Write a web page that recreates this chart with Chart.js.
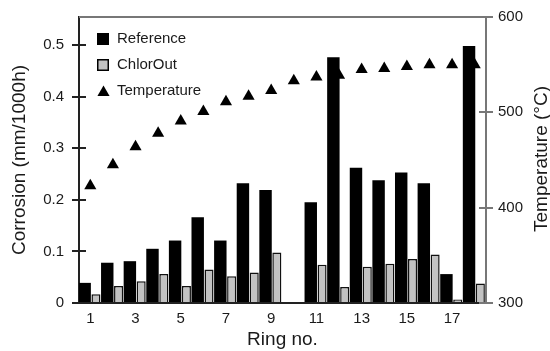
<!DOCTYPE html>
<html>
<head>
<meta charset="utf-8">
<script src="https://cdn.jsdelivr.net/npm/chart.js@4"></script>
<style>
  body { margin: 0; background: #fff; }
  canvas { display: block; }
</style>
</head>
<body>
<canvas id="chartCanvas" width="550" height="351"></canvas>
<script>
// ------------------------------------------------------------------
// Corrosion per ring (bars, left axis) + temperature (triangles, right axis)
// ------------------------------------------------------------------

// DATA
var rings = ['1', '2', '3', '4', '5', '6', '7', '8', '9', '10', '11', '12', '13', '14', '15', '16', '17', '18']
var referenceValues = [0.039, 0.078, 0.081, 0.105, 0.121, 0.166, 0.121, 0.232, 0.219, null, 0.195, 0.476, 0.262, 0.238, 0.253, 0.232, 0.056, 0.498]
var chlorOutValues  = [0.017, 0.033, 0.042, 0.056, 0.033, 0.065, 0.052, 0.059, 0.098, null, 0.074, 0.031, 0.070, 0.076, 0.085, 0.094, 0.007, 0.038]
var temperatureValues = [423, 445, 464, 478, 491, 501, 511, 517, 523, 533, 537, 539, 545, 546, 548, 550, 550, 550]

// Axis settings
var corrosionTicks = [0, 0.1, 0.2, 0.3, 0.4, 0.5]
var tempTicks = [300, 400, 500, 600]
var corrosionMax = 0.554
var leftTitle = 'Corrosion (mm/1000h)'
var rightTitle = 'Temperature (°C)'
var bottomTitle = 'Ring no.'
var seriesNames = ['Reference', 'ChlorOut', 'Temperature']

var fontFamily = "'Liberation Sans', Arial, Helvetica, sans-serif"
var textColor = '#1a1a1a'
var greyFill = '#c2c2c2'
var darkLine = '#222'
var lightLine = '#777'

Chart.defaults.font.family = fontFamily
Chart.defaults.color = textColor

// Small plugin: frame, inner tick marks, rotated right title and the legend box
var decorations = {
    id: 'decorations',
    afterDraw(chart) {
        var ctx = chart.ctx
        var area = chart.chartArea
        var yLeft = chart.scales.y
        var yRight = chart.scales.y1
        var top = Math.round(area.top)
        var bottom = Math.round(area.bottom)
        var left = Math.round(area.left)
        var right = Math.round(area.right)
        ctx.save()
        ctx.lineWidth = 2

        // top frame line (grey like the right axis)
        ctx.strokeStyle = lightLine
        ctx.beginPath()
        ctx.moveTo(left, top)
        ctx.lineTo(right, top)
        ctx.stroke()

        // bottom axis line over the bar feet
        ctx.strokeStyle = darkLine
        ctx.beginPath()
        ctx.moveTo(left - 1, bottom)
        ctx.lineTo(right, bottom)
        ctx.stroke()

        // ticks that cross into the plot
        yLeft.ticks.forEach(t => {
            var py = Math.round(yLeft.getPixelForValue(t.value))
            ctx.beginPath()
            ctx.moveTo(left, py)
            ctx.lineTo(left + 7, py)
            ctx.stroke()
        })
        ctx.strokeStyle = lightLine
        yRight.ticks.forEach(t => {
            var py = Math.round(yRight.getPixelForValue(t.value))
            ctx.beginPath()
            ctx.moveTo(right - 7, py)
            ctx.lineTo(right, py)
            ctx.stroke()
        })

        // right title reads bottom-to-top like the left one
        ctx.fillStyle = textColor
        ctx.font = '19px ' + fontFamily
        ctx.textAlign = 'center'
        ctx.textBaseline = 'middle'
        ctx.translate(541.5, (area.top + area.bottom) / 2 - 1)
        ctx.rotate(-Math.PI / 2)
        ctx.fillText(rightTitle, 0, 0)
        ctx.setTransform(1, 0, 0, 1, 0, 0)

        // legend in the top-left corner of the plot
        var lx = area.left + 18
        var ly = area.top + 22
        var rowGap = 26
        ctx.font = '15px ' + fontFamily
        ctx.textAlign = 'left'
        ctx.textBaseline = 'middle'

        ctx.fillStyle = '#000'
        ctx.fillRect(lx, ly - 6, 12, 12)
        ctx.fillStyle = textColor
        ctx.fillText(seriesNames[0], lx + 20, ly)

        ctx.fillStyle = '#000'
        ctx.fillRect(lx, ly + rowGap - 6, 12, 12)
        ctx.fillStyle = greyFill
        ctx.fillRect(lx + 1.5, ly + rowGap - 4.5, 9, 9)
        ctx.fillStyle = textColor
        ctx.fillText(seriesNames[1], lx + 20, ly + rowGap)

        var tx = lx + 6.5
        var ty = ly + 2 * rowGap + 1.5
        var r = 7
        ctx.fillStyle = '#000'
        ctx.beginPath()
        ctx.moveTo(tx, ty - r)
        ctx.lineTo(tx + r * Math.sin(Math.PI * 2 / 3), ty + r / 2)
        ctx.lineTo(tx - r * Math.sin(Math.PI * 2 / 3), ty + r / 2)
        ctx.closePath()
        ctx.fill()
        ctx.fillStyle = textColor
        ctx.fillText(seriesNames[2], lx + 20, ly + 2 * rowGap)

        ctx.restore()
    }
}

var ctx = document.getElementById('chartCanvas')
var myChart = new Chart(ctx, {
    type: 'bar',
    data: {
        labels: rings,
        datasets: [
            {
                label: seriesNames[0],
                data: referenceValues,
                yAxisID: 'y',
                backgroundColor: '#000',
                borderWidth: 0,
                categoryPercentage: 1,
                barPercentage: 1.1,
                order: 1
            },
            {
                label: seriesNames[1],
                data: chlorOutValues,
                yAxisID: 'y',
                backgroundColor: greyFill,
                borderColor: '#111',
                borderWidth: 1.5,
                borderSkipped: 'bottom',
                categoryPercentage: 1,
                barPercentage: 0.8,
                order: 1
            },
            {
                type: 'line',
                label: seriesNames[2],
                data: temperatureValues,
                yAxisID: 'y1',
                showLine: false,
                pointStyle: 'triangle',
                pointRadius: 7,
                pointBorderWidth: 0,
                pointBackgroundColor: '#000',
                borderColor: '#000',
                order: 2
            }
        ]
    },
    options: {
        responsive: false,
        animation: false,
        events: [],
        layout: { padding: { top: 15, left: 0, right: 0, bottom: 0 } },
        plugins: {
            legend: { display: false },
            tooltip: { enabled: false }
        },
        scales: {
            x: {
                offset: true,
                afterFit: s => { s.height = 48 },
                grid: { display: false, drawTicks: false },
                border: { display: true, color: darkLine, width: 2 },
                ticks: {
                    autoSkip: false,
                    maxRotation: 0,
                    padding: 7,
                    font: { size: 15 },
                    callback: (val, i) => (i % 2 === 0 ? rings[i] : '')
                },
                title: {
                    display: true,
                    text: bottomTitle,
                    font: { size: 19 },
                    padding: { top: 0, bottom: 0 }
                }
            },
            y: {
                position: 'left',
                min: 0,
                max: corrosionMax,
                afterFit: s => { s.width = 79 },
                afterBuildTicks: s => { s.ticks = corrosionTicks.map(v => ({ value: v })) },
                grid: { drawOnChartArea: false, drawTicks: true, tickLength: 7, color: darkLine, lineWidth: 2 },
                border: { display: true, color: darkLine, width: 2 },
                ticks: {
                    padding: 8,
                    font: { size: 15 },
                    callback: v => String(Math.round(v * 10) / 10)
                },
                title: {
                    display: true,
                    text: leftTitle,
                    font: { size: 19 },
                    padding: { top: 8.5, bottom: 0 }
                }
            },
            y1: {
                position: 'right',
                min: 300,
                max: 600,
                afterFit: s => { s.width = 64 },
                afterBuildTicks: s => { s.ticks = tempTicks.map(v => ({ value: v })) },
                grid: { drawOnChartArea: false, drawTicks: true, tickLength: 7, color: lightLine, lineWidth: 2 },
                border: { display: true, color: lightLine, width: 2 },
                ticks: {
                    padding: 5,
                    font: { size: 15 }
                }
            }
        }
    },
    plugins: [decorations]
})
</script>
</body>
</html>
